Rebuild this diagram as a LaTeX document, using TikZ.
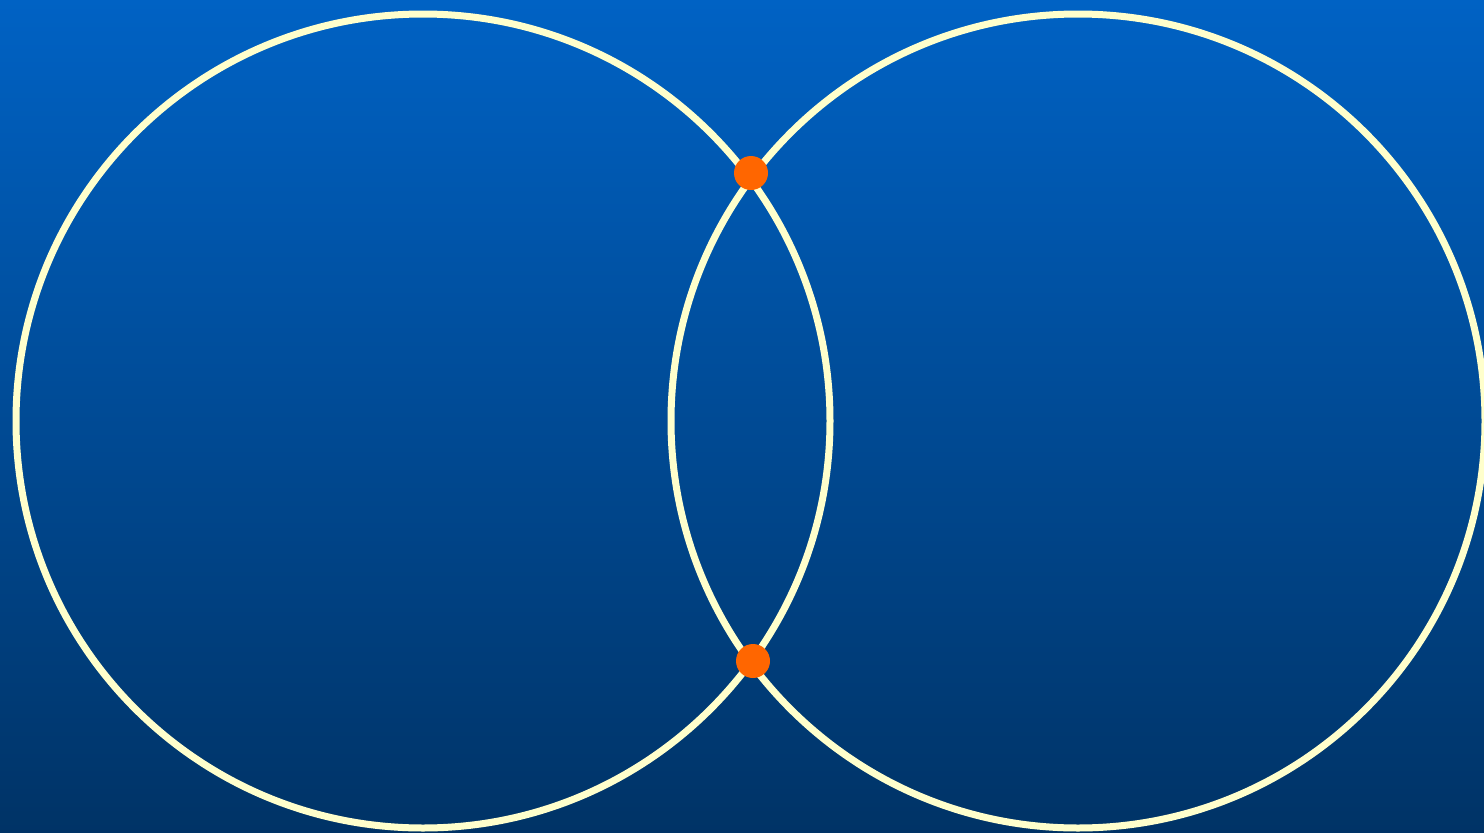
\documentclass[tikz,border=0pt]{standalone}
\begin{document}
\begin{tikzpicture}[x=1pt,y=-1pt,
  ring/.style={circle,draw=ringcol,line width=7pt,minimum size=814pt,inner sep=0pt},
  dot/.style={circle,fill=dotcol,minimum size=34pt,inner sep=0pt}]
\definecolor{topcol}{HTML}{0062C4}
\definecolor{botcol}{HTML}{003366}
\definecolor{ringcol}{HTML}{FFFFCC}
\definecolor{dotcol}{HTML}{FF6600}
\useasboundingbox (0,0) rectangle (1484,833);
\shade[top color=topcol,bottom color=botcol] (0,0) rectangle (1484,833);
\begin{scope}
\clip (0,0) rectangle (1484,833);
\node[ring] (left) at (423,421) {};
\node[ring] (right) at (1078,421) {};
\end{scope}
\node[dot] (top) at (751,173) {};
\node[dot] (bottom) at (753,661) {};
\end{tikzpicture}
\end{document}
